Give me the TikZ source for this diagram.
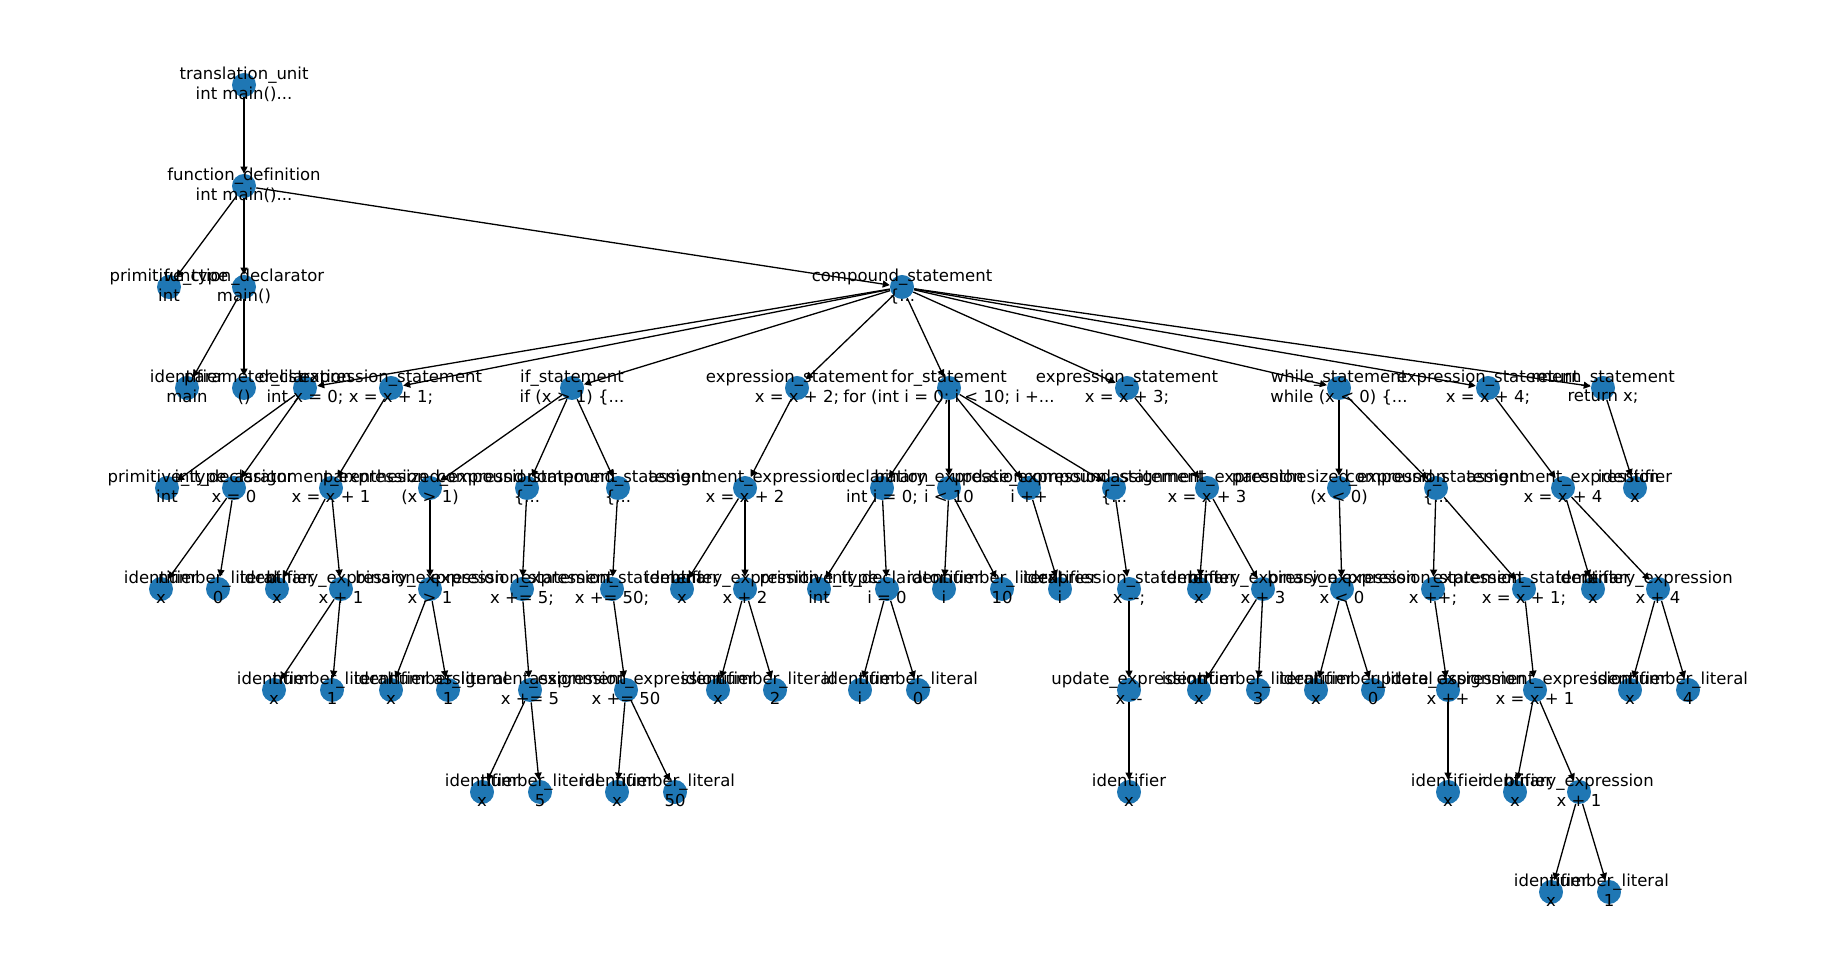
\documentclass[tikz,border=0pt]{standalone}
\usepackage{fontspec}
\newfontfamily\dejavu{DejaVu Sans}[Ligatures=NoCommon]
\usetikzlibrary{arrows.meta,backgrounds}
\definecolor{nxblue}{HTML}{1F77B4}

\begin{document}
\begin{tikzpicture}[x=0.5pt, y=-0.5pt,
    dot/.style={circle, fill=nxblue, minimum size=12pt, inner sep=0pt},
    lbl/.style={align=center, inner sep=0pt, font={\dejavu\fontsize{8.25}{9.6}\selectfont}, execute at end node={\vphantom{p}}},
    edge/.style={-{Triangle[length=3.5pt,width=3.5pt]}, line width=0.65pt}]
  \useasboundingbox (0,0) rectangle (1848,977);

  % level 0-2
  \node[dot] (unit) at (244,85) {};
  \node[dot] (fdef) at (244,186) {};
  \node[dot] (ptype) at (169,287) {};
  \node[dot] (fdecl) at (244,287) {};
  \node[dot] (body) at (902,287) {};
  % level 3
  \node[dot] (idmain) at (187,388) {};
  \node[dot] (plist) at (244,388) {};
  \node[dot] (decl) at (305,388) {};
  \node[dot] (es1) at (391,388) {};
  \node[dot] (ifst) at (572,388) {};
  \node[dot] (es2) at (797,388) {};
  \node[dot] (forst) at (949,388) {};
  \node[dot] (es3) at (1127,388) {};
  \node[dot] (whst) at (1339,388) {};
  \node[dot] (es4) at (1488,388) {};
  \node[dot] (ret) at (1603,388) {};
  % level 4
  \node[dot] (ptype2) at (167,488) {};
  \node[dot] (init1) at (234,488) {};
  \node[dot] (asg1) at (331,488) {};
  \node[dot] (par1) at (430,488) {};
  \node[dot] (then1) at (527,488) {};
  \node[dot] (else1) at (618,488) {};
  \node[dot] (asg2) at (745,488) {};
  \node[dot] (decl2) at (882,488) {};
  \node[dot] (cond) at (949,488) {};
  \node[dot] (upd1) at (1029,488) {};
  \node[dot] (body2) at (1114,488) {};
  \node[dot] (asg3) at (1207,488) {};
  \node[dot] (par2) at (1339,488) {};
  \node[dot] (body3) at (1436,488) {};
  \node[dot] (asg4) at (1563,488) {};
  \node[dot] (idret) at (1635,488) {};
  % level 5
  \node[dot] (id1) at (161,589) {};
  \node[dot] (num1) at (218,589) {};
  \node[dot] (id2) at (277,589) {};
  \node[dot] (bin1) at (341,589) {};
  \node[dot] (bin2) at (430,589) {};
  \node[dot] (es5) at (522,589) {};
  \node[dot] (es6) at (612,589) {};
  \node[dot] (id3) at (682,589) {};
  \node[dot] (bin3) at (745,589) {};
  \node[dot] (ptype3) at (819,589) {};
  \node[dot] (init2) at (887,589) {};
  \node[dot] (idi1) at (944,589) {};
  \node[dot] (num10) at (1002,589) {};
  \node[dot] (idi2) at (1060,589) {};
  \node[dot] (es7) at (1129,589) {};
  \node[dot] (id4) at (1199,589) {};
  \node[dot] (bin4) at (1263,589) {};
  \node[dot] (bin5) at (1342,589) {};
  \node[dot] (es8) at (1433,589) {};
  \node[dot] (es9) at (1524,589) {};
  \node[dot] (id5) at (1593,589) {};
  \node[dot] (bin6) at (1658,589) {};
  % level 6
  \node[dot] (id6) at (274,690) {};
  \node[dot] (num2) at (332,690) {};
  \node[dot] (id7) at (391,690) {};
  \node[dot] (num3) at (448,690) {};
  \node[dot] (asg5) at (530,690) {};
  \node[dot] (asg6) at (626,690) {};
  \node[dot] (id8) at (718,690) {};
  \node[dot] (num4) at (775,690) {};
  \node[dot] (idi3) at (860,690) {};
  \node[dot] (num5) at (918,690) {};
  \node[dot] (upd2) at (1129,690) {};
  \node[dot] (id9) at (1199,690) {};
  \node[dot] (num6) at (1258,690) {};
  \node[dot] (id10) at (1316,690) {};
  \node[dot] (num7) at (1373,690) {};
  \node[dot] (upd3) at (1448,690) {};
  \node[dot] (asg7) at (1535,690) {};
  \node[dot] (id11) at (1630,690) {};
  \node[dot] (num8) at (1688,690) {};
  % level 7-8
  \node[dot] (id12) at (482,792) {};
  \node[dot] (num9) at (540,792) {};
  \node[dot] (id13) at (617,792) {};
  \node[dot] (num50) at (675,792) {};
  \node[dot] (id14) at (1129,792) {};
  \node[dot] (id15) at (1448,792) {};
  \node[dot] (id16) at (1515,792) {};
  \node[dot] (bin7) at (1579,792) {};
  \node[dot] (id17) at (1551,892) {};
  \node[dot] (num11) at (1609,892) {};

  % edges
  \begin{scope}[on background layer]
  \draw[edge] (unit) -- (fdef);
  \draw[edge] (fdef) -- (ptype);
  \draw[edge] (fdef) -- (fdecl);
  \draw[edge] (fdef) -- (body);
  \draw[edge] (fdecl) -- (idmain);
  \draw[edge] (fdecl) -- (plist);
  \draw[edge] (body) -- (decl);
  \draw[edge] (body) -- (es1);
  \draw[edge] (body) -- (ifst);
  \draw[edge] (body) -- (es2);
  \draw[edge] (body) -- (forst);
  \draw[edge] (body) -- (es3);
  \draw[edge] (body) -- (whst);
  \draw[edge] (body) -- (es4);
  \draw[edge] (body) -- (ret);
  \draw[edge] (decl) -- (ptype2);
  \draw[edge] (decl) -- (init1);
  \draw[edge] (init1) -- (id1);
  \draw[edge] (init1) -- (num1);
  \draw[edge] (es1) -- (asg1);
  \draw[edge] (asg1) -- (id2);
  \draw[edge] (asg1) -- (bin1);
  \draw[edge] (bin1) -- (id6);
  \draw[edge] (bin1) -- (num2);
  \draw[edge] (ifst) -- (par1);
  \draw[edge] (ifst) -- (then1);
  \draw[edge] (ifst) -- (else1);
  \draw[edge] (par1) -- (bin2);
  \draw[edge] (bin2) -- (id7);
  \draw[edge] (bin2) -- (num3);
  \draw[edge] (then1) -- (es5);
  \draw[edge] (es5) -- (asg5);
  \draw[edge] (asg5) -- (id12);
  \draw[edge] (asg5) -- (num9);
  \draw[edge] (else1) -- (es6);
  \draw[edge] (es6) -- (asg6);
  \draw[edge] (asg6) -- (id13);
  \draw[edge] (asg6) -- (num50);
  \draw[edge] (es2) -- (asg2);
  \draw[edge] (asg2) -- (id3);
  \draw[edge] (asg2) -- (bin3);
  \draw[edge] (bin3) -- (id8);
  \draw[edge] (bin3) -- (num4);
  \draw[edge] (forst) -- (decl2);
  \draw[edge] (forst) -- (cond);
  \draw[edge] (forst) -- (upd1);
  \draw[edge] (forst) -- (body2);
  \draw[edge] (decl2) -- (ptype3);
  \draw[edge] (decl2) -- (init2);
  \draw[edge] (init2) -- (idi3);
  \draw[edge] (init2) -- (num5);
  \draw[edge] (cond) -- (idi1);
  \draw[edge] (cond) -- (num10);
  \draw[edge] (upd1) -- (idi2);
  \draw[edge] (body2) -- (es7);
  \draw[edge] (es7) -- (upd2);
  \draw[edge] (upd2) -- (id14);
  \draw[edge] (es3) -- (asg3);
  \draw[edge] (asg3) -- (id4);
  \draw[edge] (asg3) -- (bin4);
  \draw[edge] (bin4) -- (id9);
  \draw[edge] (bin4) -- (num6);
  \draw[edge] (whst) -- (par2);
  \draw[edge] (whst) -- (body3);
  \draw[edge] (par2) -- (bin5);
  \draw[edge] (bin5) -- (id10);
  \draw[edge] (bin5) -- (num7);
  \draw[edge] (body3) -- (es8);
  \draw[edge] (body3) -- (es9);
  \draw[edge] (es8) -- (upd3);
  \draw[edge] (upd3) -- (id15);
  \draw[edge] (es9) -- (asg7);
  \draw[edge] (asg7) -- (id16);
  \draw[edge] (asg7) -- (bin7);
  \draw[edge] (bin7) -- (id17);
  \draw[edge] (bin7) -- (num11);
  \draw[edge] (es4) -- (asg4);
  \draw[edge] (asg4) -- (id5);
  \draw[edge] (asg4) -- (bin6);
  \draw[edge] (bin6) -- (id11);
  \draw[edge] (bin6) -- (num8);
  \draw[edge] (ret) -- (idret);
  \end{scope}

  % labels
  \node[lbl] at (unit) {translation\_unit\\int main()...};
  \node[lbl] at (fdef) {function\_definition\\int main()...};
  \node[lbl] at (ptype) {primitive\_type\\int};
  \node[lbl] at (fdecl) {function\_declarator\\main()};
  \node[lbl] at (body) {compound\_statement\\\{...};
  \node[lbl] at (idmain) {identifier\\main};
  \node[lbl] at (plist) {parameter\_list\\()};
  \node[lbl] at (decl) {declaration\\int x = 0;};
  \node[lbl] at (es1) {expression\_statement\\x = x + 1;};
  \node[lbl] at (ifst) {if\_statement\\if (x > 1) \{...};
  \node[lbl] at (es2) {expression\_statement\\x = x + 2;};
  \node[lbl] at (forst) {for\_statement\\for (int i = 0; i < 10; i +...};
  \node[lbl] at (es3) {expression\_statement\\x = x + 3;};
  \node[lbl] at (whst) {while\_statement\\while (x < 0) \{...};
  \node[lbl] at (es4) {expression\_statement\\x = x + 4;};
  \node[lbl] at (ret) {return\_statement\\return x;};
  \node[lbl] at (ptype2) {primitive\_type\\int};
  \node[lbl] at (init1) {init\_declarator\\x = 0};
  \node[lbl] at (asg1) {assignment\_expression\\x = x + 1};
  \node[lbl] at (par1) {parenthesized\_expression\\(x > 1)};
  \node[lbl] at (then1) {compound\_statement\\\{...};
  \node[lbl] at (else1) {compound\_statement\\\{...};
  \node[lbl] at (asg2) {assignment\_expression\\x = x + 2};
  \node[lbl] at (decl2) {declaration\\int i = 0;};
  \node[lbl] at (cond) {binary\_expression\\i < 10};
  \node[lbl] at (upd1) {update\_expression\\i ++};
  \node[lbl] at (body2) {compound\_statement\\\{...};
  \node[lbl] at (asg3) {assignment\_expression\\x = x + 3};
  \node[lbl] at (par2) {parenthesized\_expression\\(x < 0)};
  \node[lbl] at (body3) {compound\_statement\\\{...};
  \node[lbl] at (asg4) {assignment\_expression\\x = x + 4};
  \node[lbl] at (idret) {identifier\\x};
  \node[lbl] at (id1) {identifier\\x};
  \node[lbl] at (num1) {number\_literal\\0};
  \node[lbl] at (id2) {identifier\\x};
  \node[lbl] at (bin1) {binary\_expression\\x + 1};
  \node[lbl] at (bin2) {binary\_expression\\x > 1};
  \node[lbl] at (es5) {expression\_statement\\x += 5;};
  \node[lbl] at (es6) {expression\_statement\\x += 50;};
  \node[lbl] at (id3) {identifier\\x};
  \node[lbl] at (bin3) {binary\_expression\\x + 2};
  \node[lbl] at (ptype3) {primitive\_type\\int};
  \node[lbl] at (init2) {init\_declarator\\i = 0};
  \node[lbl] at (idi1) {identifier\\i};
  \node[lbl] at (num10) {number\_literal\\10};
  \node[lbl] at (idi2) {identifier\\i};
  \node[lbl] at (es7) {expression\_statement\\x -\kern0pt-;};
  \node[lbl] at (id4) {identifier\\x};
  \node[lbl] at (bin4) {binary\_expression\\x + 3};
  \node[lbl] at (bin5) {binary\_expression\\x < 0};
  \node[lbl] at (es8) {expression\_statement\\x ++;};
  \node[lbl] at (es9) {expression\_statement\\x = x + 1;};
  \node[lbl] at (id5) {identifier\\x};
  \node[lbl] at (bin6) {binary\_expression\\x + 4};
  \node[lbl] at (id6) {identifier\\x};
  \node[lbl] at (num2) {number\_literal\\1};
  \node[lbl] at (id7) {identifier\\x};
  \node[lbl] at (num3) {number\_literal\\1};
  \node[lbl] at (asg5) {assignment\_expression\\x += 5};
  \node[lbl] at (asg6) {assignment\_expression\\x += 50};
  \node[lbl] at (id8) {identifier\\x};
  \node[lbl] at (num4) {number\_literal\\2};
  \node[lbl] at (idi3) {identifier\\i};
  \node[lbl] at (num5) {number\_literal\\0};
  \node[lbl] at (upd2) {update\_expression\\x -\kern0pt-};
  \node[lbl] at (id9) {identifier\\x};
  \node[lbl] at (num6) {number\_literal\\3};
  \node[lbl] at (id10) {identifier\\x};
  \node[lbl] at (num7) {number\_literal\\0};
  \node[lbl] at (upd3) {update\_expression\\x ++};
  \node[lbl] at (asg7) {assignment\_expression\\x = x + 1};
  \node[lbl] at (id11) {identifier\\x};
  \node[lbl] at (num8) {number\_literal\\4};
  \node[lbl] at (id12) {identifier\\x};
  \node[lbl] at (num9) {number\_literal\\5};
  \node[lbl] at (id13) {identifier\\x};
  \node[lbl] at (num50) {number\_literal\\50};
  \node[lbl] at (id14) {identifier\\x};
  \node[lbl] at (id15) {identifier\\x};
  \node[lbl] at (id16) {identifier\\x};
  \node[lbl] at (bin7) {binary\_expression\\x + 1};
  \node[lbl] at (id17) {identifier\\x};
  \node[lbl] at (num11) {number\_literal\\1};
\end{tikzpicture}
\end{document}
